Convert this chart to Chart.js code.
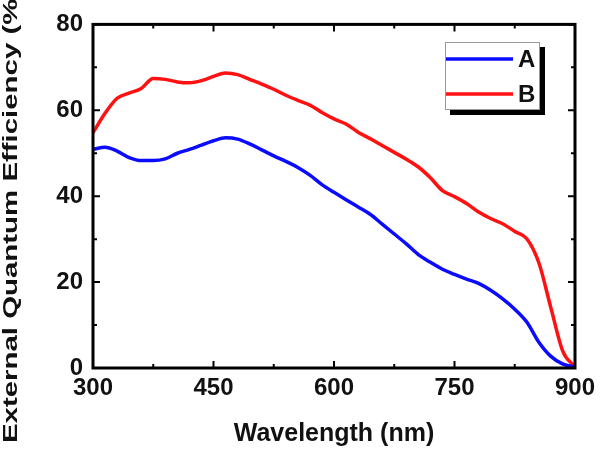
<!DOCTYPE html>
<html>
<head>
<meta charset="utf-8">
<script src="https://cdn.jsdelivr.net/npm/chart.js@4"></script>
<style>
  body { margin: 0; background: #fff; }
</style>
</head>
<body>
<canvas id="eqeChart" width="607" height="452"></canvas>
<script>
var wavelengths = [300, 315, 330, 345, 360, 375, 390, 405, 420, 435, 450, 465, 480, 495, 510, 525, 540, 555, 570, 585,
  600, 615, 630, 645, 660, 675, 690, 705, 720, 735, 750, 765, 780, 795, 810, 825, 840, 855, 870, 885, 900];
var eqeA = [50.9, 51.4, 50.5, 49.0, 48.3, 48.3, 48.7, 50.0, 50.9, 51.9, 52.9, 53.6, 53.3, 52.2, 50.8, 49.4, 48.1, 46.7, 44.9, 42.7,
  40.9, 39.2, 37.5, 35.8, 33.5, 31.2, 28.9, 26.4, 24.6, 23.0, 21.8, 20.7, 19.7, 18.1, 16.1, 13.7, 10.7, 6.0, 2.7, 0.9, 0.2];
var eqeB = [54.8, 59.3, 62.8, 64.0, 65.1, 67.4, 67.2, 66.6, 66.4, 66.9, 67.9, 68.7, 68.3, 67.2, 66.1, 64.9, 63.5, 62.3, 61.2, 59.5,
  58.0, 56.8, 54.9, 53.4, 51.8, 50.2, 48.6, 46.8, 44.3, 41.3, 39.9, 38.3, 36.3, 34.8, 33.6, 31.8, 30.1, 24.5, 14.0, 3.8, 0.3];
var xTicks = [300, 450, 600, 750, 900];
var yTicks = [0, 20, 40, 60, 80];
var seriesNames = ["A", "B"];
var seriesColors = ["#0b0bff", "#ff1111"];
var xTitle = "Wavelength (nm)";
var yTitle = "External Quantum Efficiency (%)";

Chart.defaults.font.family = '"Liberation Sans", Arial, sans-serif';
Chart.defaults.font.weight = "bold";
Chart.defaults.color = "#111";

function points(ys) {
  return wavelengths.map(function (x, i) { return { x: x, y: ys[i] }; });
}

// frame, inward ticks, boxed legend and the long y title
var decor = {
  id: "decor",
  afterDatasetsDraw: function (chart) {
    var ctx = chart.ctx, a = chart.chartArea;
    var xs = chart.scales.x, ys = chart.scales.y;
    ctx.save();
    ctx.strokeStyle = "#000";
    ctx.lineWidth = 2;
    ctx.beginPath();
    xTicks.forEach(function (v, i) {
      var px = xs.getPixelForValue(v);
      ctx.moveTo(px, a.bottom); ctx.lineTo(px, a.bottom - 7);
      ctx.moveTo(px, a.top); ctx.lineTo(px, a.top + 7);
      if (i < xTicks.length - 1) {
        var m = xs.getPixelForValue(v + 75);
        ctx.moveTo(m, a.bottom); ctx.lineTo(m, a.bottom - 4);
        ctx.moveTo(m, a.top); ctx.lineTo(m, a.top + 4);
      }
    });
    yTicks.forEach(function (v, i) {
      var py = ys.getPixelForValue(v);
      ctx.moveTo(a.left, py); ctx.lineTo(a.left + 7, py);
      ctx.moveTo(a.right, py); ctx.lineTo(a.right - 7, py);
      if (i < yTicks.length - 1) {
        var m = ys.getPixelForValue(v + 10);
        ctx.moveTo(a.left, m); ctx.lineTo(a.left + 4, m);
        ctx.moveTo(a.right, m); ctx.lineTo(a.right - 4, m);
      }
    });
    ctx.stroke();
    ctx.lineWidth = 3;
    ctx.strokeRect(a.left, a.top, a.right - a.left, a.bottom - a.top);

    // legend box with drop shadow
    ctx.fillStyle = "#000";
    ctx.fillRect(450, 47, 95, 68);
    ctx.fillStyle = "#fff";
    ctx.fillRect(445, 42, 95, 68);
    ctx.lineWidth = 1;
    ctx.strokeStyle = "#999";
    ctx.strokeRect(445.5, 42.5, 94, 67);
    ctx.font = 'bold 24px "Liberation Sans", Arial';
    ctx.textBaseline = "middle";
    ctx.textAlign = "left";
    chart.data.datasets.forEach(function (ds, i) {
      var y = 59 + i * 35;
      ctx.strokeStyle = ds.borderColor;
      ctx.lineWidth = 3.5;
      ctx.beginPath();
      ctx.moveTo(446, y); ctx.lineTo(513, y);
      ctx.stroke();
      ctx.fillStyle = "#111";
      ctx.fillText(ds.label, 518, y + 1);
    });

    // y axis title, stretched along its length like the original
    ctx.translate(17, 443);
    ctx.rotate(-Math.PI / 2);
    ctx.scale(1.4, 1);
    ctx.font = 'bold 21px "Liberation Sans", Arial';
    ctx.textBaseline = "alphabetic";
    ctx.fillStyle = "#111";
    ctx.fillText(yTitle, 0, 0);
    ctx.restore();
  }
};

new Chart("eqeChart", {
  type: "line",
  data: {
    datasets: [{
      label: seriesNames[0],
      data: points(eqeA),
      borderColor: seriesColors[0],
      borderWidth: 3.5,
      pointRadius: 0,
      cubicInterpolationMode: "monotone"
    }, {
      label: seriesNames[1],
      data: points(eqeB),
      borderColor: seriesColors[1],
      borderWidth: 3.5,
      pointRadius: 0,
      cubicInterpolationMode: "monotone"
    }]
  },
  options: {
    responsive: false,
    animation: false,
    layout: { padding: { top: 15, right: 32, bottom: 0, left: 0 } },
    plugins: { legend: { display: false }, tooltip: { enabled: false } },
    scales: {
      x: {
        type: "linear",
        min: 300,
        max: 900,
        afterBuildTicks: function (s) { s.ticks = xTicks.map(function (v) { return { value: v }; }); },
        afterFit: function (s) { s.height = 84; },
        grid: { display: false, drawTicks: false },
        border: { display: false },
        ticks: { padding: 6, font: { size: 24, weight: "bold" }, maxRotation: 0 },
        title: { display: true, text: xTitle, font: { size: 25, weight: "bold" }, padding: { top: 0, bottom: 3 } }
      },
      y: {
        min: 0,
        max: 80,
        afterBuildTicks: function (s) { s.ticks = yTicks.map(function (v) { return { value: v }; }); },
        afterFit: function (s) { s.width = 93; },
        grid: { display: false, drawTicks: false },
        border: { display: false },
        ticks: { padding: 10, font: { size: 24, weight: "bold" } }
      }
    }
  },
  plugins: [decor]
});
</script>
</body>
</html>
